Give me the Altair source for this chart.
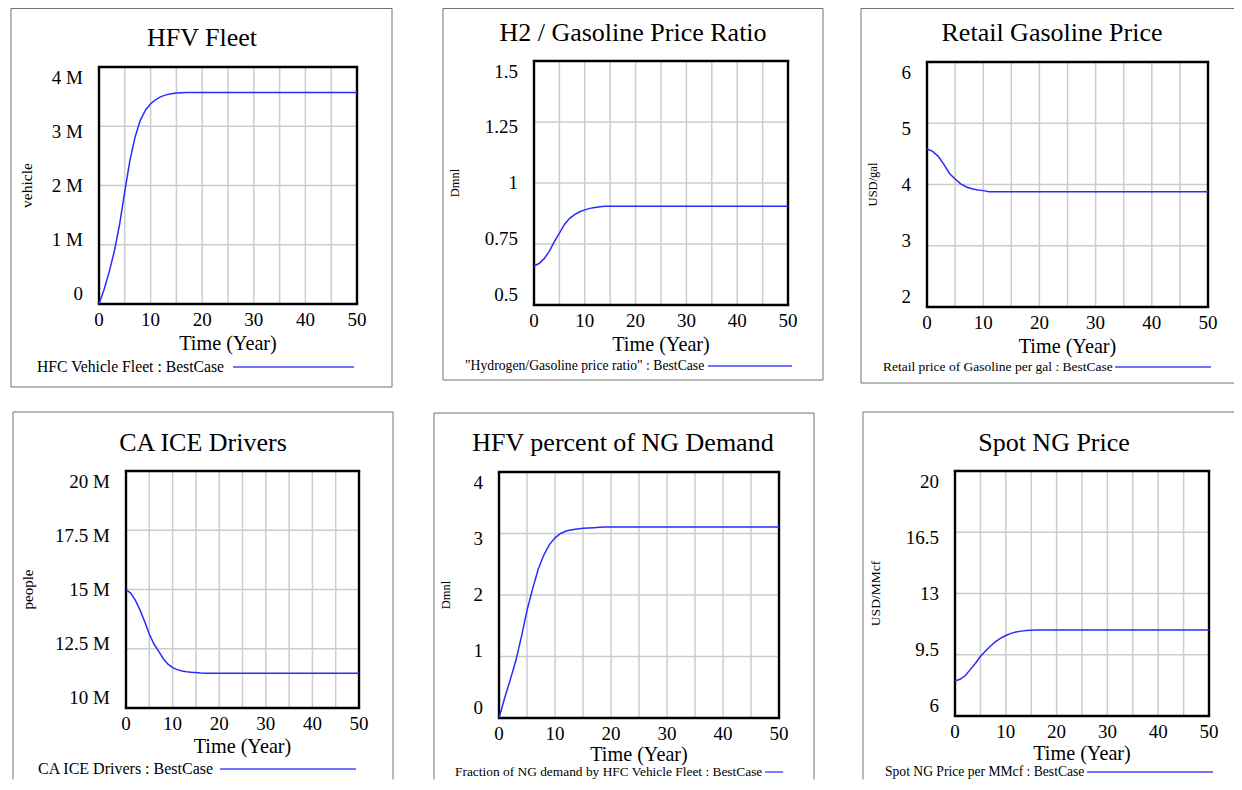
import altair as alt
import pandas as pd

# ---------------- data ----------------
TIME = list(range(0, 21)) + [30, 40, 50]

hfv_fleet_m = [0, 0.25, 0.55, 0.9, 1.35, 1.9, 2.43, 2.82, 3.1, 3.27, 3.38, 3.45, 3.5, 3.53,
               3.55, 3.56, 3.565, 3.57, 3.57, 3.57, 3.57, 3.57, 3.57, 3.57]
price_ratio = [0.66, 0.67, 0.69, 0.72, 0.76, 0.795, 0.83, 0.855, 0.87, 0.882, 0.89, 0.896, 0.9,
               0.903, 0.905, 0.905, 0.905, 0.905, 0.905, 0.905, 0.905, 0.905, 0.905, 0.905]
gasoline_price = [4.58, 4.54, 4.46, 4.33, 4.18, 4.09, 4.01, 3.96, 3.93, 3.91, 3.90, 3.88, 3.88,
                  3.88, 3.88, 3.88, 3.88, 3.88, 3.88, 3.88, 3.88, 3.88, 3.88, 3.88]
ice_drivers_m = [15.0, 14.85, 14.55, 14.14, 13.65, 13.12, 12.7, 12.4, 12.08, 11.85, 11.7, 11.62,
                 11.56, 11.53, 11.51, 11.5, 11.48, 11.47, 11.47, 11.47, 11.47, 11.47, 11.47, 11.47]
ng_fraction = [0, 0.32, 0.62, 0.93, 1.32, 1.75, 2.1, 2.42, 2.65, 2.82, 2.93, 3.0, 3.04, 3.06,
               3.075, 3.085, 3.09, 3.095, 3.1, 3.105, 3.105, 3.105, 3.105, 3.105]
spot_ng = [8.0, 8.1, 8.3, 8.65, 9.0, 9.4, 9.72, 10.0, 10.25, 10.45, 10.6, 10.72, 10.8, 10.85,
           10.88, 10.9, 10.91, 10.91, 10.91, 10.91, 10.91, 10.91, 10.91, 10.91]

titles = ["HFV Fleet", "H2 / Gasoline Price Ratio", "Retail Gasoline Price",
          "CA ICE Drivers", "HFV percent of NG Demand", "Spot NG Price"]
units = ["vehicle", "Dmnl", "USD/gal", "people", "Dmnl", "USD/MMcf"]
legend_labels = ["HFC Vehicle Fleet : BestCase",
                 "\"Hydrogen/Gasoline price ratio\" : BestCase",
                 "Retail price of Gasoline per gal : BestCase",
                 "CA ICE Drivers : BestCase",
                 "Fraction of NG demand by HFC Vehicle Fleet : BestCase",
                 "Spot NG Price per MMcf : BestCase"]
y_ticks = [[0, 1, 2, 3, 4], [0.5, 0.75, 1, 1.25, 1.5], [2, 3, 4, 5, 6],
           [10, 12.5, 15, 17.5, 20], [0, 1, 2, 3, 4], [6, 9.5, 13, 16.5, 20]]
y_labels = [["0", "1 M", "2 M", "3 M", "4 M"], ["0.5", "0.75", "1", "1.25", "1.5"],
            ["2", "3", "4", "5", "6"], ["10 M", "12.5 M", "15 M", "17.5 M", "20 M"],
            ["0", "1", "2", "3", "4"], ["6", "9.5", "13", "16.5", "20"]]
x_grid = list(range(0, 51, 5))
x_labels = [0, 10, 20, 30, 40, 50]
series = [hfv_fleet_m, price_ratio, gasoline_price, ice_drivers_m, ng_fraction, spot_ng]

# ---------------- layout (absolute page pixels; chart origin is at 8,8) ----------------
W, H = 1226, 772
OX, OY = 8, 8
LAYOUT = [
    dict(plot=(99, 67, 357, 304), frame=(11, 8.5, 392, 387), title=(202, 38), ytx=27,
         xto=40, leg=(37, 367), legline=(233, 354), ysize=15.5, legsize=15.7),
    dict(plot=(534, 61, 788, 305), frame=(443, 8.5, 823, 380), title=(633, 33), ytx=455,
         xto=40, leg=(465, 366), legline=(708, 792), ysize=12.5, legsize=13.7),
    dict(plot=(927, 62, 1208, 307), frame=(861, 8.5, None, 383), title=(1052, 33), ytx=873,
         xto=40, leg=(883, 367), legline=(1115, 1211), ysize=12.5, legsize=13.5),
    dict(plot=(126, 471, 359, 708), frame=(13, 412, 393, None), title=(203, 443), ytx=28,
         xto=39, leg=(38, 769), legline=(220, 356), ysize=15, legsize=16),
    dict(plot=(499, 472, 779, 718), frame=(434, 413, 814, None), title=(623, 443), ytx=446,
         xto=36.5, leg=(455, 772), legline=(765, 783), ysize=12.5, legsize=13.4),
    dict(plot=(955, 471, 1209, 716), frame=(863, 412, None, None), title=(1054, 443), ytx=876,
         xto=37.5, leg=(885, 772), legline=(1087, 1213), ysize=13.5, legsize=13.6),
]

FONT = "Liberation Serif"
BLUE = "#2a2aff"
LEGBLUE = "#4545ff"
FRAME = "#707070"
GRID = "#cccccc"
ONE = pd.DataFrame({"k": [0]})


def X(v):
    return v - OX


def Y(v):
    return v - OY


def rule(x1, y1, x2, y2, color, width):
    return alt.Chart(ONE).mark_rule(color=color, strokeWidth=width).encode(
        x=alt.value(X(x1)), y=alt.value(Y(y1)), x2=alt.value(X(x2)), y2=alt.value(Y(y2)))


def text(s, x, y, size, align, angle=0):
    return alt.Chart(ONE).mark_text(text=s, font=FONT, fontSize=size, align=align,
                                    baseline="middle", color="black", angle=angle).encode(
        x=alt.value(X(x)), y=alt.value(Y(y)))


def panel(i):
    L = LAYOUT[i]
    x0, y0, x1, y1 = L["plot"]
    yt = y_ticks[i]

    def xs():
        return alt.Scale(domain=[0, 50], range=[X(x0), X(x1)], nice=False, zero=False)

    def ys():
        return alt.Scale(domain=[yt[0], yt[-1]], range=[Y(y1), Y(y0)], nice=False, zero=False)

    df = pd.DataFrame({"Time": TIME, "Value": series[i]})
    gx = pd.DataFrame({"t": x_grid})
    gy = pd.DataFrame({"v": yt})

    layers = []
    # grid lines through the panel scales
    layers.append(alt.Chart(gx).mark_rule(color=GRID, strokeWidth=1.5).encode(
        x=alt.X("t:Q", scale=xs(), axis=None), y=alt.value(Y(y0)), y2=alt.value(Y(y1))))
    layers.append(alt.Chart(gy).mark_rule(color=GRID, strokeWidth=1.5).encode(
        y=alt.Y("v:Q", scale=ys(), axis=None), x=alt.value(X(x0)), x2=alt.value(X(x1))))
    # plot border
    layers.append(rule(x0 - 1.2, y0, x1 + 1.2, y0, "black", 2.4))
    layers.append(rule(x0 - 1.2, y1, x1 + 1.2, y1, "black", 2.4))
    layers.append(rule(x0, y0, x0, y1, "black", 2.4))
    layers.append(rule(x1, y0, x1, y1, "black", 2.4))
    # data line
    layers.append(alt.Chart(df).mark_line(color=BLUE, strokeWidth=1.5).encode(
        x=alt.X("Time:Q", scale=xs(), axis=None),
        y=alt.Y("Value:Q", scale=ys(), axis=None)))
    # x tick labels
    xl = pd.DataFrame({"t": x_labels, "s": [str(v) for v in x_labels]})
    layers.append(alt.Chart(xl).mark_text(font=FONT, fontSize=19, baseline="middle",
                                          align="center", color="black").encode(
        x=alt.X("t:Q", scale=xs(), axis=None), y=alt.value(Y(y1 + 16)), text="s:N"))
    # y tick labels (Vensim spreads them evenly inside the frame)
    n = len(yt)
    for k in range(n):
        frac = k / (n - 1)
        dy = -10.5 * (1 - 2 * frac)
        yl = pd.DataFrame({"v": [yt[k]], "s": [y_labels[i][k]]})
        layers.append(alt.Chart(yl).mark_text(font=FONT, fontSize=19, baseline="middle",
                                              align="right", color="black", dy=dy).encode(
            y=alt.Y("v:Q", scale=ys(), axis=None), x=alt.value(X(x0 - 16)), text="s:N"))
    # axis titles
    layers.append(text("Time (Year)", (x0 + x1) / 2, y1 + L["xto"], 20.2, "center"))
    layers.append(text(units[i], L["ytx"], (y0 + y1) / 2, L["ysize"], "center", 270))
    # panel frame
    fl, ft, fr, fb = L["frame"]
    bot = fb if fb is not None else OY + H - 0.5
    right = fr if fr is not None else OX + W
    layers.append(rule(fl, ft, fl, bot, FRAME, 1))
    layers.append(rule(fl, ft, right, ft, FRAME, 1))
    if fr is not None:
        layers.append(rule(fr, ft, fr, bot, FRAME, 1))
    if fb is not None:
        layers.append(rule(fl, fb, right, fb, FRAME, 1))
    # title
    tx, ty = L["title"]
    layers.append(text(titles[i], tx, ty, 26, "center"))
    # legend
    lx, ly = L["leg"]
    layers.append(text(legend_labels[i], lx, ly, L["legsize"], "left"))
    a, b = L["legline"]
    layers.append(rule(a, ly, b, ly, LEGBLUE, 1.4))
    return layers


all_layers = []
for i in range(6):
    all_layers.extend(panel(i))

chart = alt.layer(*all_layers).resolve_scale(
    x="independent", y="independent"
).properties(
    width=W, height=H, padding=0, autosize="none", background="white"
).configure_view(stroke="transparent")

chart.save("out.html", embed_options={"renderer": "svg", "actions": False})
